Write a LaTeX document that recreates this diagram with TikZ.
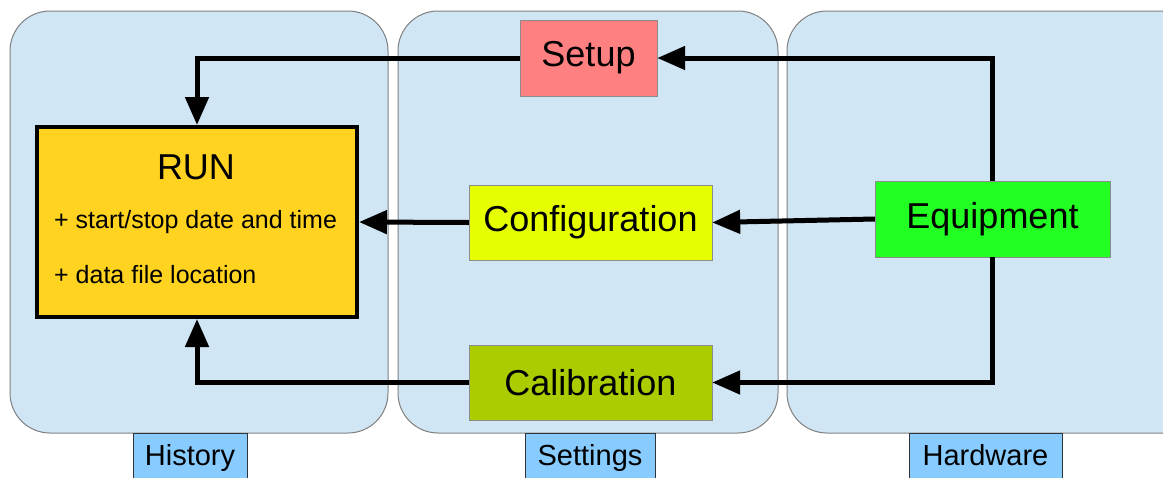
\documentclass[tikz,border=0pt]{standalone}
\usepackage{fontspec}
\setmainfont{Liberation Sans}
\usetikzlibrary{arrows.meta}
\definecolor{panelblue}{HTML}{D0E6F4}
\definecolor{tagblue}{HTML}{87CBFF}
\definecolor{setupred}{HTML}{FF8080}
\definecolor{confyellow}{HTML}{E6FF00}
\definecolor{calibgreen}{HTML}{AACC00}
\definecolor{equipgreen}{HTML}{22FF22}
\definecolor{runorange}{HTML}{FFD320}
\tikzset{
  panel/.style={draw=black!50, line width=1pt, fill=panelblue, rounded corners=40pt},
  tag/.style={draw=black!80, fill=tagblue, anchor=north, minimum height=50pt, inner sep=0pt,
    text height=21pt, text depth=6pt, font=\fontsize{29}{32}\selectfont},
  unit/.style={draw=black!45, inner sep=0pt, font=\fontsize{36}{40}\selectfont},
  conn/.style={line width=5pt, -{Triangle[length=28pt,width=23pt]}}
}
\begin{document}
\begin{tikzpicture}[x=1pt,y=-1pt]
      \useasboundingbox (0,0) rectangle (1163,477);
      % panels
      \draw[panel] (10,11) rectangle (388,433);
      \draw[panel] (398,11) rectangle (778,433);
      \draw[panel] (787,11) rectangle (1220,433);
      \node[tag, minimum width=114pt] (history) at (190,433) {History};
      \node[tag, minimum width=130pt] (settings) at (590,433) {Settings};
      \node[tag, minimum width=153pt] (hardware) at (985.5,433) {Hardware};
      % units
      \node[unit, fill=setupred, minimum width=137pt, minimum height=76pt] (setup) at (588.5,58) {Setup};
      \node[unit, fill=confyellow, minimum width=243pt, minimum height=75pt] (conf) at (590.5,222.5) {Configuration};
      \node[unit, fill=calibgreen, minimum width=243pt, minimum height=75pt] (calib) at (590.5,382.5) {Calibration};
      \node[unit, fill=equipgreen, minimum width=235pt, minimum height=76pt] (equip) at (992.5,219) {Equipment};
      \node[draw, line width=4pt, fill=runorange, minimum width=320pt, minimum height=190pt] (run) at (197,222) {};
      \node[font=\fontsize{36}{40}\selectfont] (runtitle) at (196,167) {RUN};
      \node[anchor=base west, inner sep=0pt, font=\fontsize{25}{28}\selectfont] (runstart) at (54,228) {+ start/stop date and time};
      \node[anchor=base west, inner sep=0pt, font=\fontsize{25}{28}\selectfont] (runfile) at (54,283) {+ data file location};
      % connectors
      \begin{scope}
        \draw[conn] (setup.west) -| (run.north);
        \draw[conn] (equip.north) |- (setup.east);
        \draw[conn] (equip.west) -- (conf.east);
        \draw[conn] (conf.west) -- (run.east);
        \draw[conn] (equip.south) |- (calib.east);
        \draw[conn] (calib.west) -| (run.south);
      \end{scope}
    \end{tikzpicture}
\end{document}
